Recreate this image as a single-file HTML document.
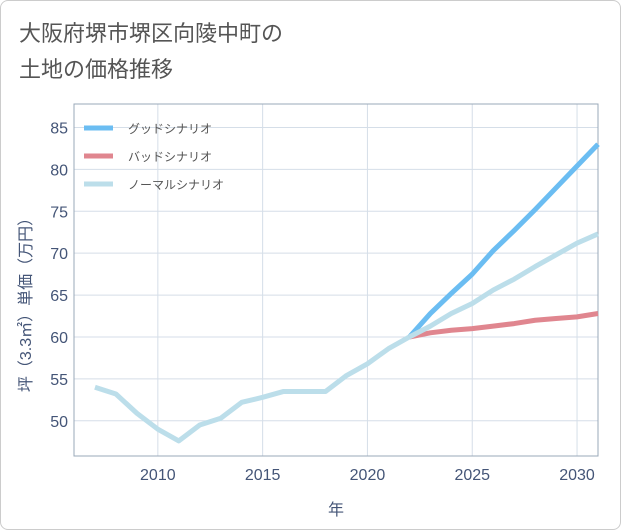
<!DOCTYPE html>
<html><head><meta charset="utf-8"><style>
body{margin:0;background:#fff;font-family:"Liberation Sans","Noto Sans CJK JP",sans-serif}
#wrap{position:relative;width:619px;height:528px;border:1px solid #ccc;border-radius:8px;overflow:hidden}
</style></head><body>
<div id="wrap">
<svg id="c" width="621" height="530">
<text x="18" y="40" font-size="22" fill="#555">大阪府堺市堺区向陵中町の</text>
<text x="18" y="76" font-size="22" fill="#555">土地の価格推移</text>
<g id="grid"></g><g id="series"></g><g id="legend"></g>
<text x="335" y="514" font-size="16" fill="#445577" text-anchor="middle">年</text>
<text transform="translate(30,300) rotate(-90)" font-size="16" fill="#445577" text-anchor="middle">坪（3.3㎡）単価（万円）</text>
</svg></div>
<script>
const years=[2007,2008,2009,2010,2011,2012,2013,2014,2015,2016,2017,2018,2019,2020,2021,2022];
const hist=[54.0,53.2,50.9,49.0,47.6,49.5,50.3,52.2,52.8,53.5,53.5,53.5,55.4,56.8,58.6,60.0];
const fYears=[2022,2023,2024,2025,2026,2027,2028,2029,2030,2031];
const good=[60.0,62.8,65.2,67.5,70.3,72.7,75.2,77.8,80.4,83.0];
const normal=[60.0,61.3,62.8,64.0,65.6,66.9,68.4,69.8,71.2,72.3];
const bad=[60.0,60.5,60.8,61.0,61.3,61.6,62.0,62.2,62.4,62.8];
const xTicks=[2010,2015,2020,2025,2030];
const yTicks=[50,55,60,65,70,75,80,85];
const L=73,R=597,T=103,B=455,x0=2006,x1=2031,y0=45.8,y1=87.8;
const X=v=>L+(v-x0)/(x1-x0)*(R-L), Y=v=>B-(v-y0)/(y1-y0)*(B-T);
const NS='http://www.w3.org/2000/svg';
function mk(p,t,a){const e=document.createElementNS(NS,t);for(const k in a)e.setAttribute(k,a[k]);p.appendChild(e);return e;}
const g=document.getElementById('grid');
xTicks.forEach(v=>{const l=mk(g,'line',{x1:X(v),x2:X(v),y1:T,y2:B,stroke:'#d5dee8'});

const t=mk(g,'text',{x:X(v),y:B+24,'font-size':16,fill:'#445577','text-anchor':'middle'});t.textContent=v;
});
yTicks.forEach(v=>{const l=mk(g,'line',{x1:L,x2:R,y1:Y(v),y2:Y(v),stroke:'#d5dee8'});

const t=mk(g,'text',{x:L-6,y:Y(v)+6,'font-size':16,fill:'#445577','text-anchor':'end'});t.textContent=v;
});
const fr=mk(g,'rect',{x:L,y:T,width:R-L,height:B-T,fill:'none',stroke:'#9aa8b8'});

const s=document.getElementById('series');
function line(xs,ys,c,n){const p=mk(s,'polyline',{points:xs.map((x,i)=>X(x)+','+Y(ys[i])).join(' '),fill:'none',stroke:c,'stroke-width':5,'stroke-linejoin':'round'});
}
line(fYears,bad,'#e0868f','bad-scenario-line');
line(fYears,good,'#6bbdf2','good-scenario-line');
line(fYears,normal,'#bcdeea','normal-scenario-line');
line(years,hist,'#bcdeea','historical-line');
const lg=document.getElementById('legend');
[['グッドシナリオ','#6bbdf2'],['バッドシナリオ','#e0868f'],['ノーマルシナリオ','#bcdeea']].forEach((d,i)=>{
const y=127+i*28;
const l=mk(lg,'line',{x1:83,x2:112,y1:y,y2:y,stroke:d[1],'stroke-width':5});

const t=mk(lg,'text',{x:127,y:y+5,'font-size':12,fill:'#555'});t.textContent=d[0];
});
</script></body></html>
